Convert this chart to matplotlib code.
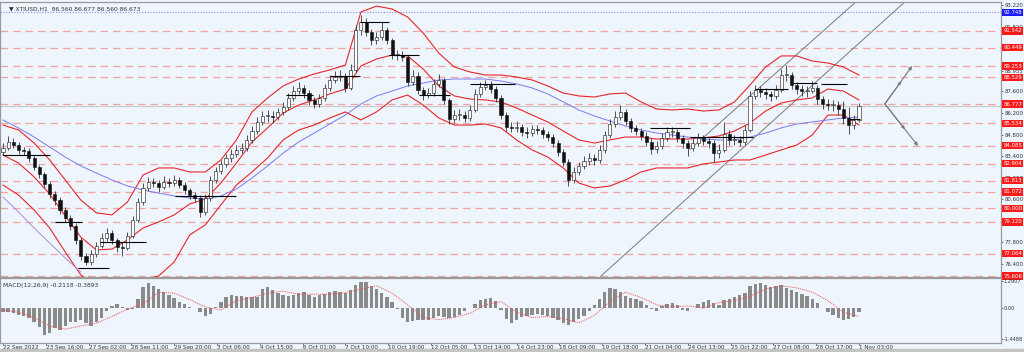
import matplotlib.pyplot as plt
import matplotlib.transforms as mtransforms
import numpy as np

# ---------------- price data (one candle = 4 H1 bars) ----------------
first_open = 83.70
closes = [
    83.93, 84.32, 84.12, 83.80, 83.73, 83.28, 82.69, 82.24, 81.59, 80.94,
    80.55, 79.90, 79.38, 78.86, 77.95, 76.91, 76.52, 77.04, 77.56, 78.08,
    78.41, 77.95, 77.50, 77.43, 78.21, 79.25, 80.42, 81.33, 81.72, 81.65,
    81.39, 81.72, 81.65, 81.85, 81.52, 81.20, 80.87, 80.68, 79.77, 80.68,
    81.85, 82.43, 82.89, 83.28, 83.54, 83.80, 83.93, 84.45, 85.03, 85.62,
    86.01, 86.01, 85.95, 86.27, 86.59, 87.18, 87.63, 87.83, 87.50, 87.05,
    86.79, 87.18, 87.83, 88.35, 88.54, 88.61, 87.83, 89.00, 91.60, 92.12,
    91.47, 90.95, 91.14, 91.60, 90.95, 89.97, 89.97, 89.84, 88.22, 88.61,
    87.70, 87.37, 87.50, 88.09, 88.35, 87.05, 85.81, 86.07, 86.07, 85.88,
    86.40, 87.44, 87.89, 88.02, 87.76, 87.18, 86.07, 85.29, 85.23, 85.29,
    84.97, 84.90, 85.16, 85.10, 84.84, 84.64, 84.25, 83.67, 83.02, 81.85,
    82.37, 82.76, 83.08, 83.28, 83.15, 83.80, 84.77, 85.49, 85.94, 86.27,
    85.68, 85.23, 85.03, 84.71, 84.32, 83.86, 84.06, 84.58, 84.97, 84.97,
    84.58, 84.25, 83.93, 84.25, 84.58, 84.38, 84.25, 83.60, 83.80, 84.84,
    84.45, 84.45, 84.32, 85.10, 87.31, 87.70, 87.57, 87.44, 87.31, 87.70,
    88.67, 88.67, 88.02, 87.76, 87.63, 87.63, 87.83, 87.11, 86.79, 86.72,
    86.72, 86.46, 85.88, 85.42, 85.75, 86.67,
]
highs = [
    84.25, 84.70, 84.55, 84.30, 84.00, 83.90, 83.45, 82.85, 82.40, 81.80,
    81.15, 80.75, 80.10, 79.55, 79.05, 78.10, 77.10, 77.30, 77.85, 78.40,
    78.75, 78.60, 78.10, 77.80, 78.45, 79.50, 80.70, 81.65, 82.05, 82.00,
    81.85, 82.10, 82.00, 82.20, 82.05, 81.70, 81.35, 81.05, 80.85, 80.95,
    82.10, 82.70, 83.15, 83.55, 83.85, 84.10, 84.25, 84.75, 85.35, 85.95,
    86.35, 86.40, 86.30, 86.55, 86.90, 87.50, 87.95, 88.20, 88.05, 87.70,
    87.25, 87.45, 88.10, 88.65, 88.90, 89.00, 88.80, 89.40, 91.95, 92.55,
    92.40, 91.65, 91.45, 92.10, 91.80, 91.10, 90.30, 90.20, 90.00, 89.00,
    88.85, 87.90, 87.80, 88.40, 88.75, 88.50, 87.20, 86.40, 86.45, 86.30,
    86.70, 87.75, 88.20, 88.35, 88.25, 87.95, 87.35, 86.25, 85.60, 85.65,
    85.50, 85.30, 85.45, 85.40, 85.30, 85.05, 84.85, 84.45, 83.85, 83.20,
    82.70, 83.05, 83.40, 83.60, 83.55, 84.10, 85.05, 85.80, 86.30, 86.75,
    86.45, 85.90, 85.45, 85.25, 84.95, 84.55, 84.35, 84.90, 85.30, 85.30,
    85.15, 84.80, 84.45, 84.55, 84.90, 84.80, 84.60, 84.45, 84.20, 85.60,
    85.10, 84.80, 84.70, 85.45, 87.65, 88.05, 87.95, 87.85, 87.65, 88.00,
    89.05, 89.30, 88.85, 88.20, 88.05, 87.95, 88.25, 88.00, 87.30, 87.10,
    87.05, 86.95, 86.95, 86.60, 86.10, 86.85,
]
lows = [
    83.45, 83.80, 83.90, 83.55, 83.45, 83.05, 82.50, 82.00, 81.35, 80.70,
    80.25, 79.65, 79.10, 78.60, 77.70, 76.65, 76.30, 76.35, 76.85, 77.40,
    77.90, 77.70, 77.20, 76.90, 77.30, 78.05, 79.10, 80.25, 81.15, 81.40,
    81.10, 81.25, 81.40, 81.45, 81.30, 80.95, 80.60, 80.40, 79.45, 79.60,
    80.50, 81.65, 82.25, 82.70, 83.05, 83.35, 83.60, 83.75, 84.25, 84.85,
    85.40, 85.60, 85.55, 85.75, 86.05, 86.40, 87.00, 87.45, 87.20, 86.75,
    86.50, 86.60, 87.00, 87.65, 88.15, 88.25, 87.55, 87.70, 88.85, 91.30,
    91.20, 90.65, 90.70, 90.95, 90.70, 89.70, 89.65, 89.55, 87.95, 88.00,
    87.45, 87.05, 87.15, 87.30, 87.90, 86.80, 85.50, 85.55, 85.75, 85.60,
    85.70, 86.25, 87.25, 87.70, 87.50, 86.90, 85.80, 85.00, 84.95, 84.95,
    84.70, 84.60, 84.70, 84.85, 84.55, 84.35, 84.00, 83.40, 82.75, 81.45,
    81.65, 82.15, 82.55, 82.85, 82.85, 82.95, 83.60, 84.55, 85.30, 85.75,
    85.40, 84.95, 84.75, 84.45, 84.05, 83.55, 83.60, 83.85, 84.40, 84.65,
    84.30, 83.95, 83.40, 83.75, 84.05, 84.10, 83.95, 83.00, 83.30, 83.65,
    84.15, 84.15, 84.05, 84.15, 84.95, 87.10, 87.25, 87.10, 86.95, 87.10,
    87.55, 88.30, 87.75, 87.45, 87.30, 87.25, 87.50, 86.80, 86.45, 86.40,
    86.30, 86.05, 85.50, 84.85, 85.15, 85.60,
]
candle_step = 4

# ---------------- indicators (one point = 12 H1 bars) ----------------
bb_upper = [
    85.42, 85.10, 84.25, 83.15, 81.85, 80.55, 79.71, 79.58, 80.42, 82.17,
    82.63, 82.63, 82.37, 82.37, 83.15, 84.45, 86.27, 87.18, 87.96, 88.41,
    88.74, 89.00, 89.32, 92.77, 93.15, 92.96, 92.44, 91.40, 90.10, 89.19,
    88.87, 88.67, 88.67, 88.54, 88.35, 87.96, 87.50, 87.31, 87.24, 87.44,
    87.50, 86.92, 86.46, 86.40, 86.46, 86.33, 86.40, 86.92, 88.02, 89.19,
    89.91, 89.91, 89.58, 89.45, 89.19, 88.67,
]
bb_middle = [
    83.47, 82.95, 82.05, 80.94, 79.51, 78.14, 77.30, 77.36, 77.95, 78.73,
    79.12, 79.58, 80.29, 80.61, 81.65, 82.95, 84.32, 85.23, 86.20, 86.72,
    87.05, 87.44, 87.76, 89.26, 89.71, 89.97, 89.91, 89.06, 87.96, 87.31,
    87.11, 87.05, 86.92, 86.53, 86.07, 85.62, 85.03, 84.45, 84.25, 84.45,
    84.64, 84.64, 84.51, 84.51, 84.51, 84.58, 84.71, 85.03, 85.55, 86.33,
    86.85, 87.05, 87.18, 87.76, 87.63, 87.05,
]
bb_lower = [
    81.52, 80.87, 79.90, 78.73, 77.17, 75.68, 74.96, 75.22, 75.48, 75.35,
    75.61, 76.52, 78.28, 78.93, 80.23, 81.52, 82.37, 83.28, 84.45, 85.10,
    85.42, 85.88, 86.27, 85.75, 86.27, 87.05, 87.37, 86.72, 85.88, 85.42,
    85.42, 85.49, 85.23, 84.45, 83.80, 83.34, 82.63, 81.65, 81.33, 81.46,
    81.85, 82.37, 82.63, 82.63, 82.63, 82.89, 83.02, 83.15, 83.15, 83.47,
    83.80, 84.12, 84.77, 86.07, 86.07, 85.42,
]
ma_slow = [
    85.75, 85.23, 84.64, 83.99, 83.34, 82.76, 82.30, 81.85, 81.46, 81.20,
    81.00, 80.81, 80.68, 80.61, 80.81, 81.26, 81.98, 82.76, 83.60, 84.32,
    84.90, 85.49, 86.07, 86.79, 87.31, 87.63, 87.96, 88.15, 88.35, 88.41,
    88.41, 88.41, 88.28, 88.09, 87.83, 87.44, 86.92, 86.40, 86.01, 85.68,
    85.36, 85.10, 84.90, 84.77, 84.64, 84.51, 84.45, 84.45, 84.64, 84.90,
    85.23, 85.49, 85.62, 85.75, 85.88, 85.94,
]
ma_purple = [80.74, 79.77, 78.73, 77.75, 76.78, 75.87]
ind_step = 12

# ---------------- MACD ----------------
macd_hist = [
    -0.19, -0.19, -0.24, -0.33, -0.38, -0.47, -0.66, -0.90, -1.27, -1.18,
    -0.94, -1.04, -0.85, -0.66, -0.66, -0.57, -0.71, -0.85, -0.66, -0.47,
    -0.14, 0.09, 0.19, 0.05, -0.09, -0.05, 0.42, 0.99, 1.18, 1.04,
    0.90, 0.76, 0.61, 0.47, 0.28, 0.19, 0.05, -0.02, -0.19, -0.38,
    -0.28, 0.05, 0.28, 0.52, 0.61, 0.57, 0.57, 0.52, 0.52, 0.52,
    0.90, 0.99, 0.85, 0.71, 0.61, 0.57, 0.61, 0.71, 0.76, 0.61,
    0.52, 0.61, 0.66, 0.76, 0.80, 0.76, 0.71, 0.85, 1.09, 1.23,
    1.23, 1.04, 0.90, 0.71, 0.52, 0.28, -0.05, -0.47, -0.66, -0.61,
    -0.57, -0.57, -0.57, -0.47, -0.38, -0.42, -0.47, -0.42, -0.33, -0.14,
    -0.02, 0.19, 0.38, 0.42, 0.47, 0.33, -0.09, -0.52, -0.71, -0.57,
    -0.42, -0.38, -0.33, -0.28, -0.33, -0.38, -0.47, -0.57, -0.71, -0.80,
    -0.66, -0.52, -0.38, -0.14, 0.14, 0.42, 0.76, 0.94, 0.90, 0.76,
    0.57, 0.47, 0.42, 0.33, 0.14, -0.05, -0.14, 0.09, 0.19, 0.24,
    0.14, -0.09, -0.14, -0.02, 0.19, 0.28, 0.38, 0.24, 0.14, 0.38,
    0.42, 0.52, 0.61, 0.71, 1.04, 1.13, 1.18, 1.09, 0.99, 1.04,
    1.09, 0.94, 0.85, 0.76, 0.66, 0.57, 0.42, 0.24, -0.02, -0.19,
    -0.33, -0.47, -0.57, -0.52, -0.42, -0.21,
]
macd_signal = [
    -0.10, -0.20, -0.45, -0.85, -1.00, -0.85, -0.72, -0.40, -0.05, 0.20,
    0.75, 0.70, 0.40, 0.05, -0.10, 0.35, 0.50, 0.70, 0.80, 0.65,
    0.65, 0.65, 0.72, 0.90, 1.05, 0.70, 0.15, -0.45, -0.55, -0.45,
    -0.25, 0.15, 0.30, -0.20, -0.45, -0.40, -0.50, -0.70, -0.35, 0.30,
    0.75, 0.50, 0.15, 0.05, 0.10, 0.00, 0.25, 0.35, 0.55, 0.90,
    1.05, 0.95, 0.75, 0.35, -0.20, -0.39,
]

# ---------------- levels, labels, drawings ----------------
red_levels = [91.542, 90.449, 89.253, 88.529, 86.777, 85.534, 84.085,
              82.904, 81.813, 81.072, 80.000, 79.120, 77.064, 75.606]
blue_level = 92.748
bid_price = 86.673
price_ticks = [93.220, 91.820, 88.955, 87.600, 86.200, 84.800, 83.400,
               82.000, 80.600, 77.800, 76.400]
macd_ticks = [1.2907, 0.0, -1.4488]
macd_tick_labels = ["1.2907", "0.00", "-1.4488"]
date_labels = ["22 Sep 2022", "23 Sep 16:00", "27 Sep 02:00", "28 Sep 11:00",
               "29 Sep 20:00", "3 Oct 06:00", "4 Oct 15:00", "6 Oct 01:00",
               "7 Oct 10:00", "10 Oct 19:00", "12 Oct 05:00", "13 Oct 14:00",
               "14 Oct 23:00", "18 Oct 09:00", "19 Oct 18:00", "21 Oct 04:00",
               "24 Oct 13:00", "25 Oct 22:00", "27 Oct 08:00", "28 Oct 17:00",
               "1 Nov 03:00"]
date_step = 33
# (start bar, end bar, price)
swing_lines = [(0, 36, 83.47), (40, 61, 79.12), (58, 82, 76.13), (75, 110, 77.82),
               (133, 180, 80.80), (218, 239, 87.37), (252, 275, 88.61),
               (275, 298, 92.12), (298, 321, 89.97), (321, 345, 87.37),
               (360, 395, 88.09), (499, 530, 85.23), (530, 578, 84.66),
               (580, 605, 87.76), (609, 628, 88.15), (631, 651, 88.09),
               (653, 661, 85.81)]
channel_lower = [(461, 75.6), (701, 93.85)]
channel_upper = [(530, 83.86), (660, 93.6)]
arrow_start = (680, 86.79)
arrow_ends = [(701, 89.26), (705.6, 84.06)]

BG = '#eef5fc'
plt.rcParams['font.family'] = ['DejaVu Sans']

fig = plt.figure(figsize=(10.24, 3.52), dpi=100, facecolor=BG)
ax = fig.add_axes([0.0, 0.2131, 0.9775, 0.7812], facecolor=BG)
axm = fig.add_axes([0.0, 0.0256, 0.9775, 0.1846], facecolor=BG, sharex=ax)

# horizontal levels
for lv in red_levels:
    ax.axhline(lv, color='#f2a3a3', lw=0.9, dashes=(6, 4), zorder=1)
ax.axhline(blue_level, color='#8c8cf0', lw=0.8, ls=(0, (1, 1.5)), zorder=1)
ax.axhline(bid_price, color='#c8c8c8', lw=0.8, zorder=1)

# indicator lines
xi = np.arange(len(bb_upper)) * ind_step
ax.plot(xi, bb_upper, color='#e8262a', lw=0.8, zorder=3)
ax.plot(xi, bb_middle, color='#e8262a', lw=0.8, zorder=3)
ax.plot(xi, bb_lower, color='#e8262a', lw=0.8, zorder=3)
ax.plot(xi, ma_slow, color='#7b7bf2', lw=0.7, zorder=3)
ax.plot(np.arange(len(ma_purple)) * ind_step, ma_purple, color='#b08ae0', lw=0.7, zorder=3)

# candles
xc = np.arange(len(closes)) * candle_step
opens = [first_open] + closes[:-1]
ax.vlines(xc, lows, highs, color='#333333', lw=0.6, zorder=4)
for x, o, c in zip(xc, opens, closes):
    h = c - o
    if abs(h) < 0.04:
        h = 0.04 if h >= 0 else -0.04
    face = '#ffffff' if c >= o else '#111111'
    ax.bar(x, h, bottom=o, width=2.4, color=face, edgecolor='#111111',
           linewidth=0.4, zorder=5)

# swing levels
for x0, x1, p in swing_lines:
    ax.hlines(p, x0, x1, color='black', lw=0.8, zorder=6)

# channel
for pts in (channel_lower, channel_upper):
    ax.plot([pts[0][0], pts[1][0]], [pts[0][1], pts[1][1]], color='#7a7a7a', lw=0.7, zorder=2)

# projection arrows
for ex, ey in arrow_ends:
    ax.annotate('', xy=(ex, ey), xytext=arrow_start,
                arrowprops=dict(arrowstyle='-|>', color='#7a7a7a', lw=0.8,
                                mutation_scale=5, shrinkA=0, shrinkB=0), zorder=6)
    ax.annotate('', xy=((ex + arrow_start[0]) / 2 + (ex - arrow_start[0]) * 0.1,
                        (ey + arrow_start[1]) / 2 + (ey - arrow_start[1]) * 0.1),
                xytext=arrow_start,
                arrowprops=dict(arrowstyle='-|>', color='#7a7a7a', lw=0.8,
                                mutation_scale=4, shrinkA=0, shrinkB=0), zorder=6)

ax.set_xlim(-2.3, 769.5)
ax.set_ylim(75.545, 93.415)

# right price axis
ax.yaxis.tick_right()
ax.set_yticks(price_ticks)
ax.set_yticklabels([f'{t:.3f}' for t in price_ticks])
ax.tick_params(axis='y', labelsize=3.9, length=1.5, width=0.5, pad=0.8,
               colors='#333333')
ax.tick_params(axis='x', bottom=False, labelbottom=False)

trans = mtransforms.blended_transform_factory(ax.transAxes, ax.transData)
for lv in red_levels:
    ax.text(1.0022, lv, f'{lv:.3f}', transform=trans, fontsize=3.9, color='white',
            va='center', ha='left', clip_on=False, zorder=10,
            bbox=dict(boxstyle='square,pad=0.22', fc='#ff1a1a', ec='none'))
ax.text(1.0022, blue_level, f'{blue_level:.3f}', transform=trans, fontsize=3.9,
        color='white', va='center', ha='left', clip_on=False, zorder=10,
        bbox=dict(boxstyle='square,pad=0.22', fc='#1a1aff', ec='none'))

ax.text(0.009, 0.985, '\u25bc XTIUSD,H1  86.560 86.677 86.560 86.673',
        transform=ax.transAxes, fontsize=4.3, color='#333333', va='top', ha='left')

# MACD panel
axm.bar(xc, macd_hist, width=2.6, color='#8a8a8a', edgecolor='none', zorder=2)
axm.plot(xi, macd_signal, color='#f05050', lw=0.7, ls=(0, (1, 1)), zorder=3)
axm.set_ylim(-1.652, 1.416)
axm.yaxis.tick_right()
axm.set_yticks(macd_ticks)
axm.set_yticklabels(macd_tick_labels)
axm.tick_params(axis='y', labelsize=3.6, length=1.5, width=0.5, pad=0.6, colors='#333333')
axm.text(0.003, 0.93, 'MACD(12,26,9) -0.2118 -0.3893', transform=axm.transAxes,
         fontsize=4.3, color='#333333', va='top', ha='left')

axm.set_xticks(np.arange(len(date_labels)) * date_step)
axm.set_xticklabels(date_labels)
axm.tick_params(axis='x', labelsize=4.1, length=1.2, width=0.5, pad=0.3, colors='#333333')
for lbl in axm.get_xticklabels():
    lbl.set_ha('left')

for a in (ax, axm):
    for s in a.spines.values():
        s.set_color('#9a9a9a')
        s.set_linewidth(0.9)

# bottom grey strip
fig.patches.append(plt.Rectangle((0, 0), 1, 3 / 352, transform=fig.transFigure,
                                 color='#c4c4c4', zorder=0))

fig.savefig('out.png', dpi=100, facecolor=BG)
